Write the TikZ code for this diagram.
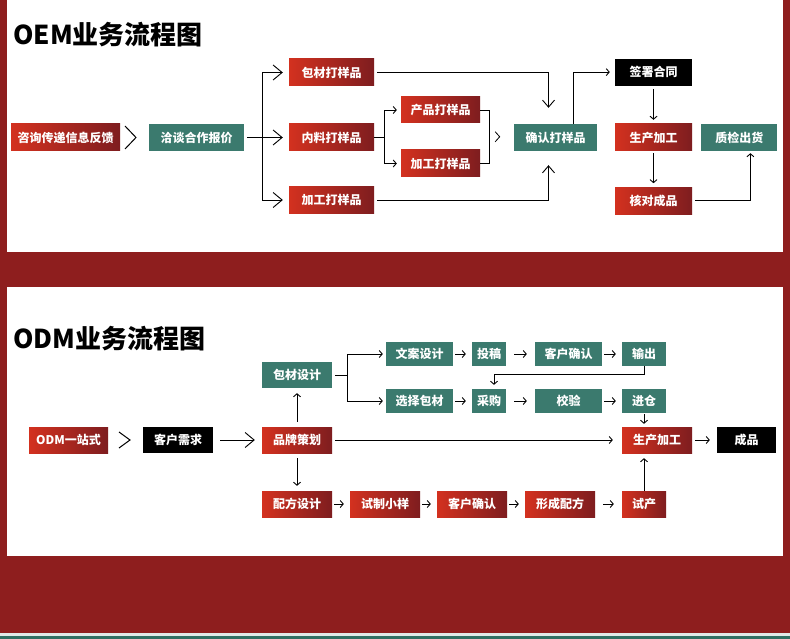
\documentclass[tikz,border=0pt]{standalone}
\usepackage{fontspec}
\setmainfont{Noto Sans CJK SC}
\usetikzlibrary{positioning,calc,arrows.meta}
\definecolor{bgred}{HTML}{8E1E1E}
\definecolor{redl}{HTML}{D3311F}
\definecolor{redd}{HTML}{7E1D1F}
\definecolor{tealbox}{HTML}{3B7A6E}
\definecolor{stripe}{HTML}{2F6E62}
\tikzset{>={Straight Barb[length=3pt,width=7pt]}}

\begin{document}
\begin{tikzpicture}[
    x=1pt, y=-1pt,
    box/.style={rectangle, inner sep=0pt, minimum height=27pt, text=white, font=\bfseries\fontsize{12}{12}\selectfont},
    redbox/.style={box, left color=redl, right color=redd},
    greenbox/.style={box, fill=tealbox},
    blackbox/.style={box, fill=black},
    title/.style={anchor=base west, inner sep=0pt, font=\bfseries\fontsize{26}{26}\selectfont},
    link/.style={line width=0.9pt, ->},
    bigarr/.style={line width=0.9pt, -{Straight Barb[length=9pt,width=15pt]}},
    midarr/.style={line width=0.9pt, -{Straight Barb[length=7pt,width=12pt]}},
    near/.style={shorten <=2pt, shorten >=6pt},
    far/.style={shorten <=8pt, shorten >=8pt}
]
\useasboundingbox (0,0) rectangle (790,639);
\fill[bgred] (0,0) rectangle (790,639);
\fill[white] (7,0) rectangle (783,252);
\fill[white] (7,287) rectangle (783,556);
\fill[stripe!15] (0,633) rectangle (790,636);
\fill[stripe] (0,636) rectangle (790,639);

% OEM
\node[title] (oem) at (13,45) {OEM业务流程图};

\node[redbox, minimum width=109pt] (zx) at (65.5,137.5) {咨询传递信息反馈};
\node[greenbox, minimum width=95pt] (qt) at (196.5,137.5) {洽谈合作报价};
\node[redbox, minimum width=85pt] (bc) at (331.5,72.5) {包材打样品};
\node[redbox, minimum width=85pt] (nl) at (331.5,137.5) {内料打样品};
\node[redbox, minimum width=85pt] (jg) at (331.5,200) {加工打样品};
\node[redbox, minimum width=79pt, minimum height=26pt] (cp) at (440.5,110) {产品打样品};
\node[redbox, minimum width=79pt] (jgb) at (440.5,163.5) {加工打样品};
\node[greenbox, minimum width=83pt] (qr) at (555.5,137.5) {确认打样品};
\node[redbox, minimum width=77pt] (sc) at (653.5,137.5) {生产加工};
\node[blackbox, minimum width=77pt, above=38pt of sc] (qs) {签署合同};
\node[redbox, minimum width=77pt, below=36pt of sc] (hd) {核对成品};
\node[greenbox, minimum width=76pt, right=9pt of sc] (zj) {质检出货};

\draw[line width=1pt] ($(zx.east)!.5!(qt.west)+(-9.5,-11.5)$) -- ++(11,11.5) -- ++(-11,11.5);
\draw[line width=0.9pt, shorten <=3pt] (qt.east) -- ++(18,0) coordinate (fork1);
\draw[bigarr, shorten >=6pt] (fork1) |- (bc);
\draw[bigarr, shorten >=6pt] (fork1) -- (nl);
\draw[bigarr, shorten >=6pt] (fork1) |- (jg);
\draw[line width=0.9pt] (nl.east) -- ++(10,0) coordinate (fork2);
\draw[link, shorten >=4pt] (fork2) |- (cp);
\draw[link, shorten >=4pt] (fork2) |- (jgb);
\draw[line width=0.9pt] (cp.east) -- ++(9,0) |- (jgb.east);
\draw[line width=0.8pt] ($(cp.east)!.5!(jgb.east)+(15,-5)$) -- ++(4.5,5) -- ++(-4.5,5);
\draw[midarr, shorten <=3pt, shorten >=16pt] (bc.east) -| ([xshift=-7pt]qr.north);
\draw[midarr, shorten <=3pt, shorten >=14pt] (jg.east) -| ([xshift=-7pt]qr.south);
\draw[link, shorten >=5pt] ([xshift=17.5pt]qr.north) |- (qs);
\draw[link, shorten <=3pt, shorten >=4pt] (qs) -- (sc);
\draw[link, shorten <=2pt, shorten >=4pt] (sc) -- (hd);
\draw[link, shorten <=3pt, shorten >=2pt] (hd.east) -| ([xshift=11pt]zj.south);

% ODM
\node[title] (odmt) at (13,348) {ODM业务流程图};

\node[redbox, minimum width=79pt, minimum height=26pt] (odm) at (68.5,440) {ODM一站式};
\node[blackbox, minimum width=70pt, minimum height=26pt] (kh) at (178,440) {客户需求};
\node[redbox, minimum width=70pt, minimum height=26pt] (pp) at (297,440) {品牌策划};
\node[greenbox, minimum width=70pt, minimum height=26pt] (bz) at (297,375) {包材设计};
\node[redbox, minimum width=70pt, minimum height=26pt] (pf) at (297,504) {配方设计};
\node[greenbox, minimum width=67pt, minimum height=24pt] (wa) at (419.5,354) {文案设计};
\node[greenbox, minimum width=34pt, minimum height=24pt] (tg) at (489,354) {投稿};
\node[greenbox, minimum width=67pt, minimum height=24pt] (khq) at (568.5,354) {客户确认};
\node[greenbox, minimum width=44pt, minimum height=24pt] (sch) at (644,354) {输出};
\node[greenbox, minimum width=67pt, minimum height=24pt] (xz) at (419.5,401) {选择包材};
\node[greenbox, minimum width=34pt, minimum height=24pt] (cg) at (489,401) {采购};
\node[greenbox, minimum width=67pt, minimum height=24pt] (jy) at (568.5,401) {校验};
\node[greenbox, minimum width=44pt, minimum height=24pt] (jc) at (644,401) {进仓};
\node[redbox, minimum width=70pt, minimum height=26pt] (scb) at (657,440) {生产加工};
\node[blackbox, minimum width=59pt, minimum height=26pt] (cpin) at (746.5,440) {成品};
\node[redbox, minimum width=70pt, minimum height=26pt] (sz) at (385,504) {试制小样};
\node[redbox, minimum width=70pt, minimum height=26pt] (kqr) at (472,504) {客户确认};
\node[redbox, minimum width=70pt, minimum height=26pt] (xc) at (560,504) {形成配方};
\node[redbox, minimum width=44pt, minimum height=26pt] (sca) at (644,504) {试产};

\draw[line width=1pt] ($(odm.east)!.5!(kh.west)+(-6.5,-8)$) -- ++(11,8) -- ++(-11,8);
\draw[bigarr, shorten <=7pt, shorten >=7pt] (kh) -- (pp);
\draw[link, shorten <=5pt, shorten >=5pt] (pp) -- (bz);
\draw[link, shorten <=5pt, shorten >=5pt] (pp) -- (pf);
\draw[line width=0.9pt, shorten <=3pt] (bz.east) -- ++(15,0) coordinate (fork3);
\draw[link, shorten >=3pt] (fork3) |- (wa);
\draw[link, shorten >=3pt] (fork3) |- (xz);
\draw[link, near] (wa) -- (tg);
\draw[link, far] (tg) -- (khq);
\draw[link, near] (khq) -- (sch);
\draw[link, near] (xz) -- (cg);
\draw[link, far] (cg) -- (jy);
\draw[link, near] (jy) -- (jc);
\draw[link, shorten >=4pt] (sch.south) -- ++(0,8) -| ([xshift=5pt]cg.north);
\draw[link, shorten <=1pt, shorten >=3pt] (jc.south) -- (jc.south |- scb.north);
\draw[link, shorten <=3pt, shorten >=9pt] (pp) -- (scb);
\draw[link, shorten <=3pt, shorten >=7pt] (scb) -- (cpin);
\draw[link, near] (pf) -- (sz);
\draw[link, near] (sz) -- (kqr);
\draw[link, near] (kqr) -- (xc);
\draw[link, far] (xc) -- (sca);
\draw[link, shorten >=5pt] (sca.north) -- (sca.north |- scb.south);
\end{tikzpicture}
\end{document}
